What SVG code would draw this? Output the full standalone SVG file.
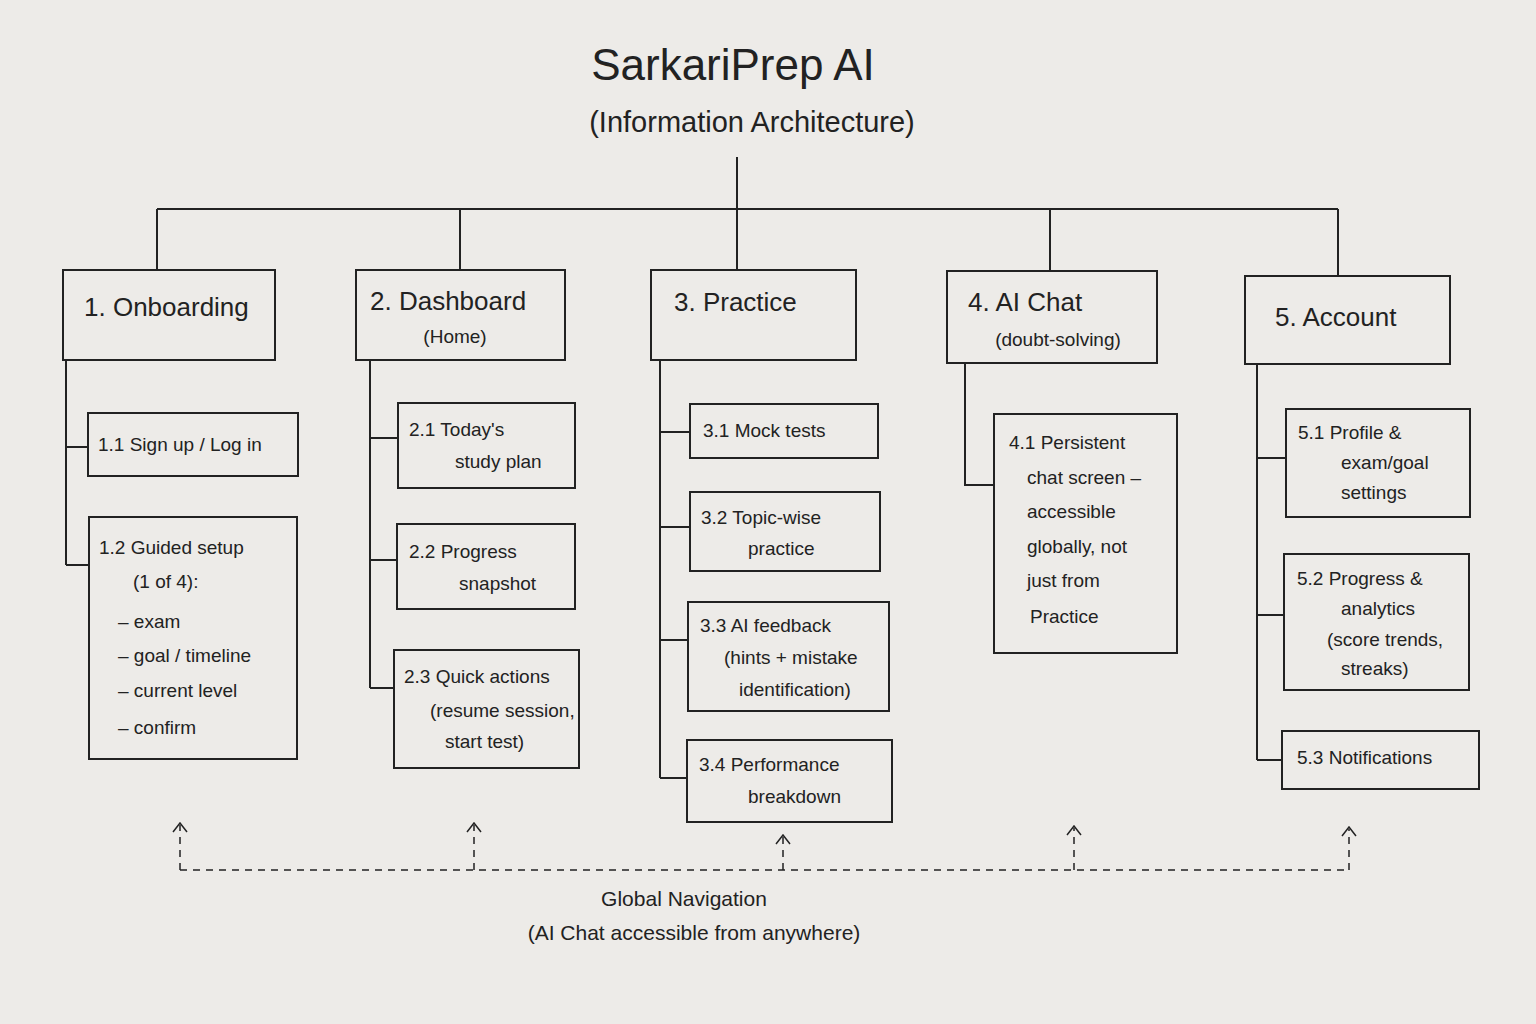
<svg xmlns="http://www.w3.org/2000/svg" width="1536" height="1024" viewBox="0 0 1536 1024">
<style>
text{font-family:"Liberation Sans","DejaVu Sans",sans-serif;fill:#222}
.h{font-size:26px}
.s{font-size:19px}
.b{fill:none;stroke:#222;stroke-width:2}
.l{fill:none;stroke:#222;stroke-width:2}
.d{fill:none;stroke:#222;stroke-width:1.5;stroke-dasharray:7 6}
.ah{fill:none;stroke:#222;stroke-width:1.5}
</style>
<rect width="1536" height="1024" fill="#edebe8"/>
<text x="733" y="80" font-size="44" text-anchor="middle">SarkariPrep AI</text>
<text x="752" y="132" font-size="29" text-anchor="middle">(Information Architecture)</text>
<g id="connectors">
<path class="l" d="M737 157V209M157 209H1338M157 209V270M460 209V270M737 209V270M1050 209V271M1338 209V276"/>
<path class="l" d="M66 360V565M66 447H88M66 565H89"/>
<path class="l" d="M370 360V688M370 438H398M370 560H397M370 688H394"/>
<path class="l" d="M660 360V778M660 432H690M660 527H690M660 640H688M660 778H687"/>
<path class="l" d="M965 363V485H994"/>
<path class="l" d="M1257 364V760M1257 458H1286M1257 615H1284M1257 760H1282"/>
<path class="d" d="M180 870H1349"/>
<path class="d" d="M180 870V825M474 870V825M783 870V837M1074 870V828M1349 870V829"/>
<path class="ah" d="M173 832L180 823L187 832M467 832L474 823L481 832M776 844L783 835L790 844M1067 835L1074 826L1081 835M1342 836L1349 827L1356 836"/>
</g>
<g id="n1"><rect class="b" x="63" y="270" width="212" height="90"/><text class="h" x="84" y="316">1. Onboarding</text></g>
<g id="n2"><rect class="b" x="356" y="270" width="209" height="90"/><text class="h" x="370" y="310">2. Dashboard</text><text class="s" x="455" y="343" text-anchor="middle">(Home)</text></g>
<g id="n3"><rect class="b" x="651" y="270" width="205" height="90"/><text class="h" x="674" y="311">3. Practice</text></g>
<g id="n4"><rect class="b" x="947" y="271" width="210" height="92"/><text class="h" x="968" y="311">4. AI Chat</text><text class="s" x="1058" y="346" text-anchor="middle">(doubt-solving)</text></g>
<g id="n5"><rect class="b" x="1245" y="276" width="205" height="88"/><text class="h" x="1275" y="326">5. Account</text></g>
<g id="n11"><rect class="b" x="88" y="413" width="210" height="63"/><text class="s" x="98" y="451">1.1 Sign up / Log in</text></g>
<g id="n12"><rect class="b" x="89" y="517" width="208" height="242"/><text class="s"><tspan x="99" y="554">1.2 Guided setup</tspan><tspan x="133" y="588">(1 of 4):</tspan><tspan x="118" y="628">– exam</tspan><tspan x="118" y="662">– goal / timeline</tspan><tspan x="118" y="697">– current level</tspan><tspan x="118" y="734">– confirm</tspan></text></g>
<g id="n21"><rect class="b" x="398" y="403" width="177" height="85"/><text class="s"><tspan x="409" y="436">2.1 Today's</tspan><tspan x="455" y="468">study plan</tspan></text></g>
<g id="n22"><rect class="b" x="397" y="524" width="178" height="85"/><text class="s"><tspan x="409" y="558">2.2 Progress</tspan><tspan x="459" y="590">snapshot</tspan></text></g>
<g id="n23"><rect class="b" x="394" y="650" width="185" height="118"/><text class="s"><tspan x="404" y="683">2.3 Quick actions</tspan><tspan x="430" y="717">(resume session,</tspan><tspan x="445" y="748">start test)</tspan></text></g>
<g id="n31"><rect class="b" x="690" y="404" width="188" height="54"/><text class="s" x="703" y="437">3.1 Mock tests</text></g>
<g id="n32"><rect class="b" x="690" y="492" width="190" height="79"/><text class="s"><tspan x="701" y="524">3.2 Topic-wise</tspan><tspan x="748" y="555">practice</tspan></text></g>
<g id="n33"><rect class="b" x="688" y="602" width="201" height="109"/><text class="s"><tspan x="700" y="632">3.3 AI feedback</tspan><tspan x="724" y="664">(hints + mistake</tspan><tspan x="739" y="696">identification)</tspan></text></g>
<g id="n34"><rect class="b" x="687" y="740" width="205" height="82"/><text class="s"><tspan x="699" y="771">3.4 Performance</tspan><tspan x="748" y="803">breakdown</tspan></text></g>
<g id="n41"><rect class="b" x="994" y="414" width="183" height="239"/><text class="s"><tspan x="1009" y="449">4.1 Persistent</tspan><tspan x="1027" y="484">chat screen –</tspan><tspan x="1027" y="518">accessible</tspan><tspan x="1027" y="553">globally, not</tspan><tspan x="1027" y="587">just from</tspan><tspan x="1030" y="623">Practice</tspan></text></g>
<g id="n51"><rect class="b" x="1286" y="409" width="184" height="108"/><text class="s"><tspan x="1298" y="439">5.1 Profile &amp;</tspan><tspan x="1341" y="469">exam/goal</tspan><tspan x="1341" y="499">settings</tspan></text></g>
<g id="n52"><rect class="b" x="1284" y="554" width="185" height="136"/><text class="s"><tspan x="1297" y="585">5.2 Progress &amp;</tspan><tspan x="1341" y="615">analytics</tspan><tspan x="1327" y="646">(score trends,</tspan><tspan x="1341" y="675">streaks)</tspan></text></g>
<g id="n53"><rect class="b" x="1282" y="731" width="197" height="58"/><text class="s" x="1297" y="764">5.3 Notifications</text></g>
<g id="nav"><text font-size="21" x="684" y="906" text-anchor="middle">Global Navigation</text><text font-size="21" x="694" y="940" text-anchor="middle">(AI Chat accessible from anywhere)</text></g>
</svg>
